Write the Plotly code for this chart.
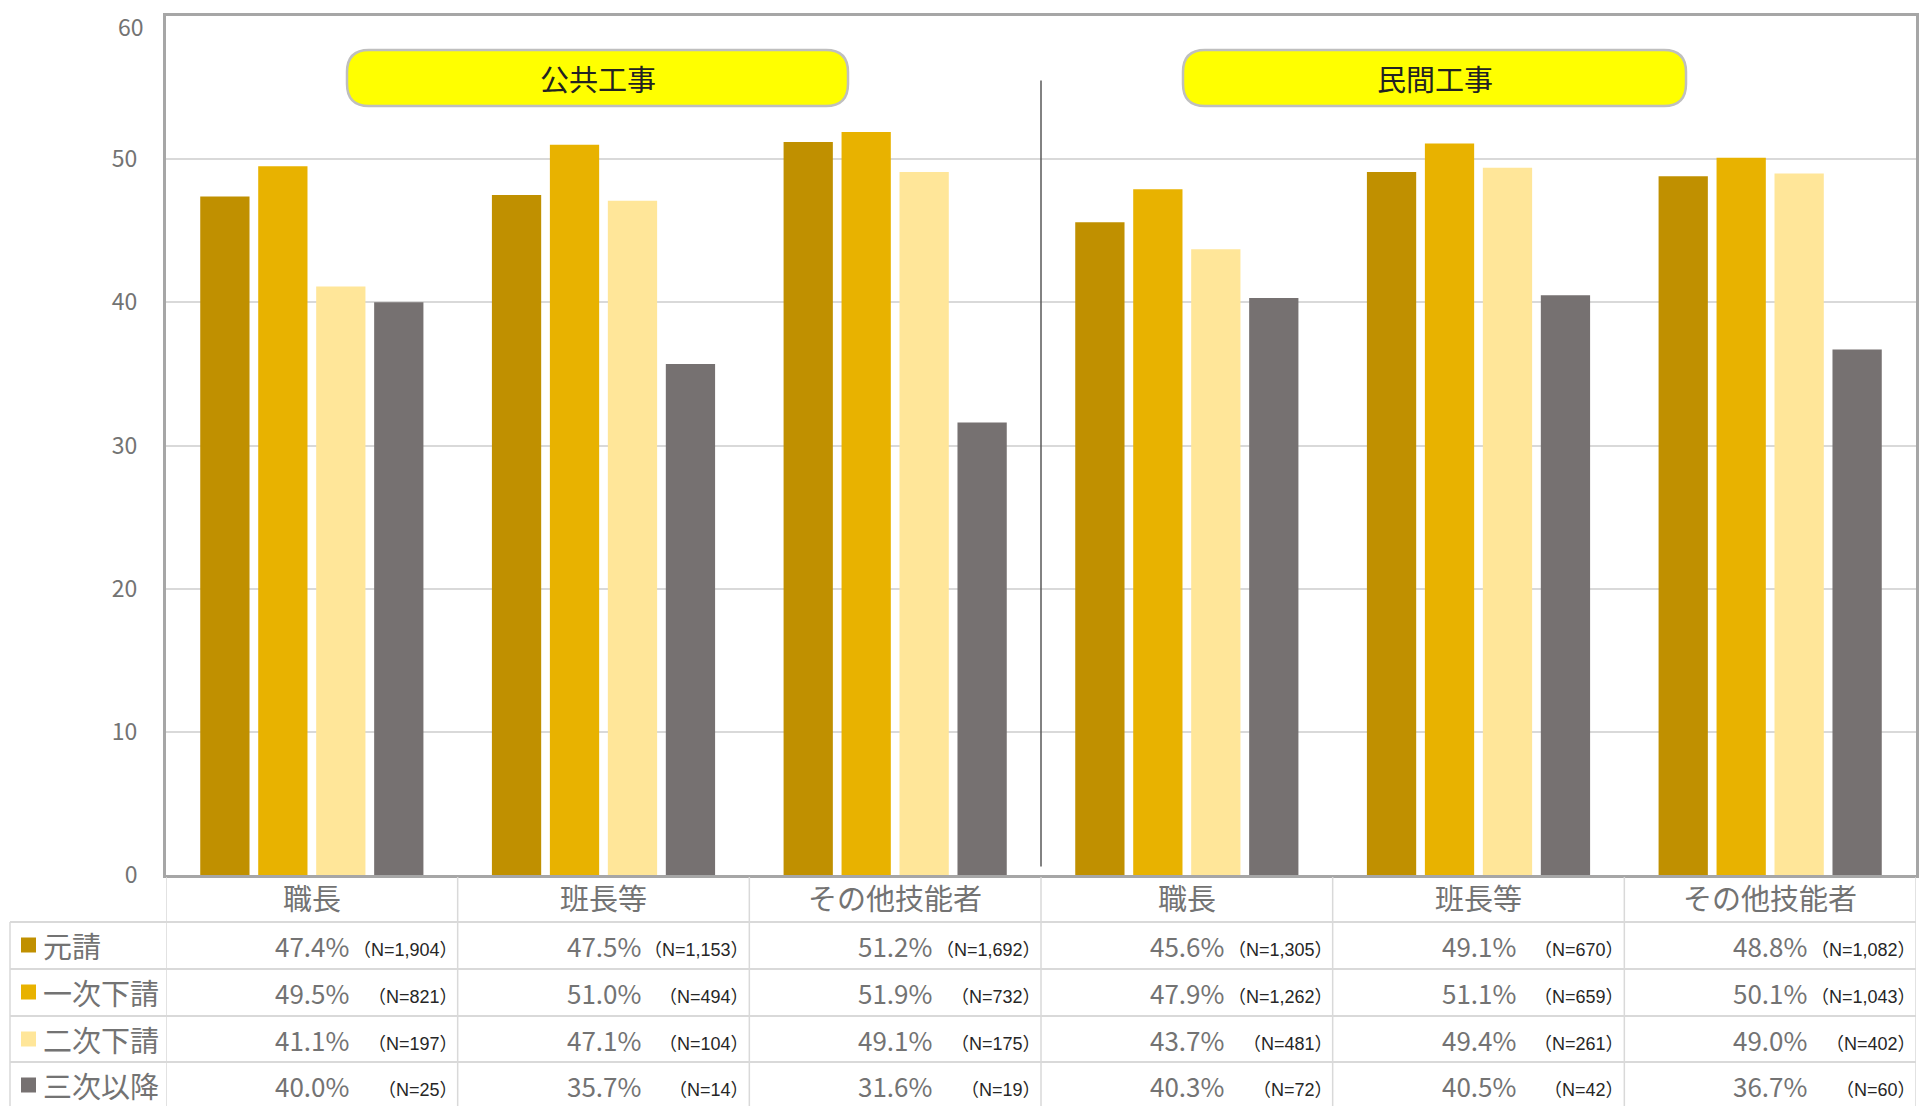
import plotly.graph_objects as go

# ---------------- data ----------------
groups = ["公共工事", "民間工事"]
roles = ["職長", "班長等", "その他技能者"]
series = ["元請", "一次下請", "二次下請", "三次以降"]

gensei = [47.4, 47.5, 51.2, 45.6, 49.1, 48.8]
ichiji = [49.5, 51.0, 51.9, 47.9, 51.1, 50.1]
niji = [41.1, 47.1, 49.1, 43.7, 49.4, 49.0]
sanji = [40.0, 35.7, 31.6, 40.3, 40.5, 36.7]

n_gensei = ["1,904", "1,153", "1,692", "1,305", "670", "1,082"]
n_ichiji = ["821", "494", "732", "1,262", "659", "1,043"]
n_niji = ["197", "104", "175", "481", "261", "402"]
n_sanji = ["25", "14", "19", "72", "42", "60"]

y_ticks = [0, 10, 20, 30, 40, 50, 60]

values = [gensei, ichiji, niji, sanji]
counts = [n_gensei, n_ichiji, n_niji, n_sanji]
colors = ["#C09000", "#E8B200", "#FFE699", "#767171"]

keys = [f"{g}-{r}" for g in groups for r in roles]
labels = [r for g in groups for r in roles]

# ---------------- layout geometry (screen pixels; page body has 8px margin) ----------------
OFF = 8
SCR_W, SCR_H = 1928, 1106
FIG_W, FIG_H = SCR_W - OFF, SCR_H - OFF
L, R, T, B = 166, 1916, 16, 875
W, H = R - L, B - T


def px_x(px):
    return (px - L) / W


def px_y(py):
    return (B - py) / H


FONT = "Noto Sans CJK JP"
GREY_TXT = "#737373"
GRID = "#D9D9D9"
TICK_SIZE = 23
TICK_STANDOFF = 21

fig = go.Figure()
for name, vals, col in zip(series, values, colors):
    fig.add_trace(go.Bar(
        x=keys, y=vals, name=name, marker=dict(color=col, line=dict(width=0)),
        showlegend=False,
        hovertemplate="%{x}<br>" + name + ": %{y:.1f}%<extra></extra>",
    ))

shapes = []
annotations = []

# vertical separator between groups
shapes.append(dict(type="line", xref="x", yref="y", x0=2.5, x1=2.5, y0=0.6, y1=55.5,
                   line=dict(color="#595959", width=1.5)))


def rounded_box(x0p, x1p, y0p, y1p, r):
    rx = r / W
    ry = r / H
    a0, a1 = px_x(x0p), px_x(x1p)
    b0, b1 = px_y(y1p), px_y(y0p)
    return (f"M {a0+rx},{b0} L {a1-rx},{b0} Q {a1},{b0} {a1},{b0+ry} "
            f"L {a1},{b1-ry} Q {a1},{b1} {a1-rx},{b1} L {a0+rx},{b1} "
            f"Q {a0},{b1} {a0},{b1-ry} L {a0},{b0+ry} Q {a0},{b0} {a0+rx},{b0} Z")


boxes = [(347, 848), (1183, 1686)]
for (bx0, bx1), g in zip(boxes, groups):
    shapes.append(dict(type="path", xref="paper", yref="paper",
                       path=rounded_box(bx0, bx1, 50, 106, 22),
                       fillcolor="#FFFF00", line=dict(color="#BFBFBF", width=2.5), layer="above"))
    annotations.append(dict(xref="paper", yref="paper", x=px_x((bx0 + bx1) / 2), y=px_y(78),
                            text=g, showarrow=False,
                            font=dict(family=FONT, size=29, color="#222222"),
                            xanchor="center", yanchor="middle"))

# top tick label (placed as annotation so it is not clipped at the page edge)
top_tick = y_ticks[-1]
annotations.append(dict(xref="paper", yref="y", x=0, xshift=-TICK_STANDOFF, y=top_tick, yshift=8,
                        text=str(top_tick), showarrow=False, borderpad=0,
                        font=dict(family=FONT, size=TICK_SIZE, color=GREY_TXT),
                        xanchor="right", yanchor="top"))

# ---------------- table ----------------
row_lines = [922, 969, 1016, 1062]
table_bottom = SCR_H
leg_left = 10

for i in range(len(keys) + 1):
    shapes.append(dict(type="line", xref="x", yref="paper", x0=i - 0.5, x1=i - 0.5,
                       y0=px_y(B + 2), y1=px_y(table_bottom), line=dict(color=GRID, width=1.5)))
shapes.append(dict(type="line", xref="paper", yref="paper", x0=px_x(leg_left), x1=px_x(leg_left),
                   y0=px_y(row_lines[0]), y1=px_y(table_bottom), line=dict(color=GRID, width=1.5)))
for ry in row_lines:
    shapes.append(dict(type="line", xref="paper", yref="paper", x0=px_x(leg_left), x1=1,
                       y0=px_y(ry), y1=px_y(ry), line=dict(color=GRID, width=2)))

for k, lab in zip(keys, labels):
    annotations.append(dict(xref="x", yref="paper", x=k, y=px_y(897), text=lab, showarrow=False,
                            font=dict(family=FONT, size=29, color=GREY_TXT),
                            xanchor="center", yanchor="middle"))

row_centers = [945, 992, 1039, 1085]
for s_i, (name, vals, ns, col) in enumerate(zip(series, values, counts, colors)):
    yc = row_centers[s_i]
    shapes.append(dict(type="rect", xref="paper", yref="paper", x0=px_x(21), x1=px_x(36),
                       y0=px_y(yc + 7.5), y1=px_y(yc - 7.5), fillcolor=col, line=dict(width=0)))
    annotations.append(dict(xref="paper", yref="paper", x=px_x(41), y=px_y(yc), text=name,
                            showarrow=False, font=dict(family=FONT, size=29, color=GREY_TXT),
                            xanchor="left", yanchor="middle"))
    for j, k in enumerate(keys):
        annotations.append(dict(xref="x", yref="paper", x=k, y=px_y(yc), text=f"{vals[j]:.1f}%",
                                showarrow=False,
                                font=dict(family=FONT, size=26, color=GREY_TXT),
                                xanchor="center", yanchor="middle"))
        annotations.append(dict(xref="x", yref="paper", x=j + 0.5, xshift=2, y=px_y(yc + 5),
                                text=f"（N={ns[j]}）", showarrow=False,
                                font=dict(family="Liberation Sans, " + FONT, size=18, color="#262626"),
                                xanchor="right", yanchor="middle"))

fig.update_layout(
    width=FIG_W, height=FIG_H,
    margin=dict(l=L - OFF, r=SCR_W - R, t=T - OFF, b=SCR_H - B, autoexpand=False),
    paper_bgcolor="white", plot_bgcolor="white",
    barmode="group", bargap=0.205, bargroupgap=0.15,
    shapes=shapes, annotations=annotations,
    font=dict(family=FONT),
    xaxis=dict(type="category", range=[-0.5, 5.5], showticklabels=False, showgrid=False,
               showline=True, mirror=True, linecolor="#A6A6A6", linewidth=3, ticks="", zeroline=False,
               automargin=False),
    yaxis=dict(range=[0, 60], tickvals=y_ticks[:-1], ticktext=[str(v) for v in y_ticks[:-1]],
               showgrid=True, gridcolor=GRID, gridwidth=1.5,
               showline=True, mirror=True, linecolor="#A6A6A6", linewidth=3, zeroline=False,
               tickfont=dict(family=FONT, size=TICK_SIZE, color=GREY_TXT), ticks="",
               ticklabelstandoff=TICK_STANDOFF, ticklabeloverflow="allow", automargin=False),
)

fig.write_html("out.html")
